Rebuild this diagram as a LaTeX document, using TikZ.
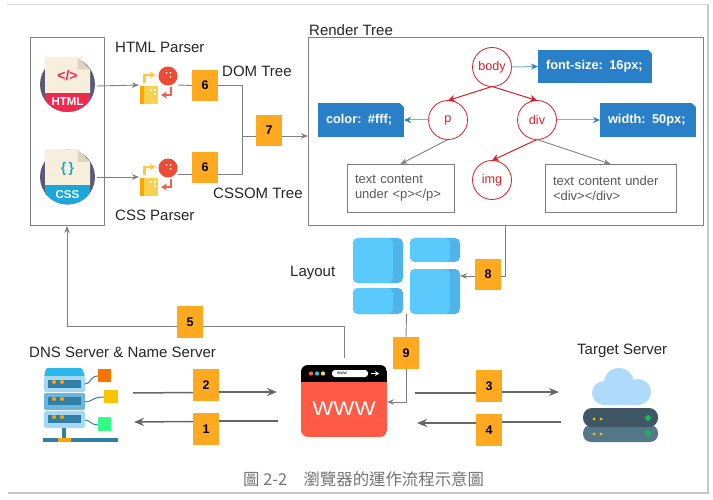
\documentclass[tikz,border=0pt]{standalone}
\usepackage{fontspec}
\usepackage{tikz}
\usetikzlibrary{arrows.meta}
\setmainfont{Liberation Sans}
\newfontfamily\cjk{Noto Sans CJK TC}

\definecolor{stepor}{HTML}{FFA920}
\definecolor{linegr}{HTML}{808080}
\definecolor{thickgr}{HTML}{666666}
\definecolor{nodered}{HTML}{D42027}
\definecolor{noteblue}{HTML}{2A7FC9}
\definecolor{notelin}{HTML}{7FB3CF}
\definecolor{paper}{HTML}{F7EEDB}
\definecolor{fold}{HTML}{DDD3C0}
\definecolor{ring}{HTML}{5A5A78}
\definecolor{htmlred}{HTML}{EE2A4E}
\definecolor{cssblue}{HTML}{1BA7DC}
\definecolor{parsey}{HTML}{FFD04D}
\definecolor{parseo}{HTML}{FFA500}
\definecolor{parser}{HTML}{EE4B35}
\definecolor{arrowy}{HTML}{FFC845}
\definecolor{arrowr}{HTML}{F0624D}
\definecolor{tileA}{HTML}{5AC9FC}
\definecolor{tileB}{HTML}{4EB4E9}
\definecolor{webred}{HTML}{FF5A45}
\definecolor{dnscap}{HTML}{2BB8EA}
\definecolor{dnslt}{HTML}{A5D8F3}
\definecolor{dnsmid}{HTML}{6CB4DA}
\definecolor{dnsdk}{HTML}{2F7FA8}
\definecolor{cloudc}{HTML}{AEDAFC}
\definecolor{rackA}{HTML}{3F5765}
\definecolor{rackB}{HTML}{557889}
\definecolor{ledg}{HTML}{16B85A}
\definecolor{ledy}{HTML}{FFC400}

\tikzset{
  pics/srcfile/.style n args={3}{code={
    \fill [ring] (0,0) circle [radius=27.5];
    \fill [paper] (-22.5,-27.5) -- (10,-27.5) -- (22.5,-15) -- (22.5,8.5) -- (-22.5,8.5) -- cycle;
    \fill [fold] (10,-27.5) -- (22.5,-15) -- (10,-15) -- cycle;
    \begin{scope}
      \clip (0,0) circle [radius=27.5];
      \fill [#1] (-22.5,8.5) rectangle (22.5,28);
    \end{scope}
    \node [text=#1, font=\fontsize{14}{14}\selectfont\bfseries] (logo) at (0,-8.5) {#2};
    \node [text=white, font=\fontsize{11.5}{12}\selectfont\bfseries] (band) at (0,17.5) {#3};
  }},
  pics/parser/.style={code={
    \fill [parsey] (0,0) rectangle (18.5,18);
    \fill [parseo] (0,0) rectangle (4,18);
    \fill [white] (10,3) rectangle (12,5);
    \fill [white] (14,3) rectangle (16,5);
    \fill [white] (14,7) rectangle (16,9);
    \fill [parser] (28.5,-10) circle [radius=9.5];
    \fill [white] (27,-13) circle [radius=1];
    \fill [white] (31,-13) circle [radius=1];
    \fill [white] (31,-9) circle [radius=1];
    \draw [line width=2.4pt, arrowy, -{Stealth[length=6pt,width=7pt]}] (5,-3) |- (16,-11);
    \draw [line width=2.4pt, arrowr, -{Stealth[length=6pt,width=7pt]}] (31.5,1) |- (21.5,9);
  }}
}

\begin{document}
\begin{tikzpicture}[
    x=1pt, y=-1pt,
    spot/.style={inner sep=0, outer sep=0, minimum width=#1},
    frame/.style={draw=linegr, line width=1pt, inner sep=0, outer sep=0, fill=white},
    stepbox/.style={fill=stepor, minimum width=26pt, minimum height=31.5pt, inner sep=0, outer sep=0,
      font=\fontsize{12.5}{13}\selectfont\bfseries},
    lbl/.style={anchor=west, inner sep=0, font=\fontsize{15}{15}\selectfont, text=black!85},
    cnct/.style={draw=linegr, line width=0.9pt, >={Stealth[length=7pt,width=5.5pt]}},
    bigcnct/.style={draw=thickgr, line width=1.5pt, >={Stealth[length=10pt,width=8pt]}},
    treenode/.style={draw=nodered, circle, line width=0.8pt, minimum size=39pt, inner sep=0, outer sep=0,
      text=nodered, font=\fontsize{12.6}{13}\selectfont},
    redcnct/.style={draw=nodered, line width=1pt, >={Stealth[length=7pt,width=7pt]}},
    notecnct/.style={draw=notelin, line width=1pt,
      >={Stealth[length=7pt,width=6pt,fill=noteblue,color=noteblue]}},
    notebox/.style={fill=noteblue, text=white, text width=#1, inner xsep=8pt, inner ysep=0, outer sep=0,
      minimum height=33.5pt, align=left, font=\fontsize{12.8}{14}\selectfont\bfseries,
      path picture={\fill [white] (path picture bounding box.north east) -- ++(-4pt,0pt) -- ++(4pt,-4pt) -- cycle;}},
    textbox/.style={draw=linegr, line width=0.9pt, fill=white, text=black!65, text width=#1, inner xsep=8pt,
      inner ysep=0, outer sep=0, minimum height=48pt, align=left,
      font=\fontsize{13}{15}\selectfont},
  ]
  \useasboundingbox (0,0) rectangle (713,500);
  \fill [white] (0,0) rectangle (713,500);
  % page edges
  \draw [black!15, line width=1pt] (7,4.5) -- (708,4.5);
  \draw [black!22, line width=1.5pt] (708,4.5) -- (708,493) -- (8,493);

  % boxes
  \node [frame, minimum width=74pt, minimum height=188pt] (srcBox) at (67,132) {};
  \node [frame, minimum width=395pt, minimum height=188pt] (renderBox) at (505.5,132) {};

  % file icons
  \node [spot=55pt, minimum height=55pt] (htmlIcon) at (67.5,84.5) {};
  \node [spot=55pt, minimum height=55pt] (cssIcon) at (67.5,177) {};
  \pic (html) at (67.5,84.5) {srcfile={htmlred}{</>}{HTML}};
  \pic (css) at (67.5,177) {srcfile={cssblue}{\{\,\}}{CSS}};

  % parsers
  \node [spot=39pt, minimum height=38pt] (parserA) at (158.5,85) {};
  \node [spot=39pt, minimum height=38pt] (parserB) at (158.5,177) {};
  \pic at (139.5,86) {parser};
  \pic at (139.5,178) {parser};

  \node [stepbox] (sixA) at (205,85.5) {6};
  \node [stepbox] (sixB) at (205,167.5) {6};
  \node [stepbox] (sevenBox) at (269,130.5) {7};
  \node [stepbox] (eightBox) at (488,274.5) {8};
  \node [stepbox] (nineBox) at (406,353) {9};
  \node [stepbox] (fiveBox) at (190,322) {5};
  \node [stepbox] (twoBox) at (206,385) {2};
  \node [stepbox] (oneBox) at (206,429) {1};
  \node [stepbox] (threeBox) at (489,386) {3};
  \node [stepbox] (fourBox) at (489,430) {4};

  \node [lbl] (htmlLbl) at (115,47) {HTML Parser};
  \node [lbl] (cssLbl) at (115,215) {CSS Parser};
  \node [lbl] (domLbl) at (222,71) {DOM Tree};
  \node [lbl] (cssomLbl) at (213,193) {CSSOM Tree};
  \node [lbl] (renderLbl) at (309,30) {Render Tree};
  \node [lbl] (layoutLbl) at (290,273) {Layout};
  \node [lbl] (dnsLbl) at (29,352) {DNS Server \& Name Server};
  \node [lbl] (targetLbl) at (577,351) {Target Server};

  \coordinate (joinPt) at (242,136);
  \draw [cnct, ->] (htmlIcon.east) ++(2,1.5) -- (parserA.west);
  \draw [cnct, ->] (cssIcon.east) ++(2,0) -- (parserB.west);
  \draw [cnct] (parserA.east) -- (sixA.west);
  \draw [cnct] ([yshift=3pt]parserB.east) -- ([yshift=-6.5pt]sixB.west);
  \draw [cnct] (sixA.east) -| (joinPt);
  \draw [cnct] ([yshift=-6.5pt]sixB.east) -| (joinPt);
  \draw [cnct] (joinPt) -- ([yshift=-5.5pt]sevenBox.west);
  \draw [cnct, ->] ([yshift=-5.5pt]sevenBox.east) -- ([yshift=-4pt]renderBox.west);

  % tree
  \node [treenode] (bodyNode) at (492,67) {body};
  \node [treenode] (pNode) at (448,120) {p};
  \node [treenode] (divNode) at (537,120) {div};
  \node [treenode] (imgNode) at (492,180) {img};
  \node [notebox=98pt] (sizeNote) at (595,66.5) {font-size: 16px;};
  \node [notebox=70pt] (colorNote) at (361,120) {color: \#fff;};
  \node [notebox=80pt] (widthNote) at (648,120) {width: 50px;};
  \node [textbox=91pt] (pText) at (400.5,188) {text content\\under <p></p>};
  \node [textbox=115pt] (divText) at (610.5,188) {text content under\\<div></div>};

  \draw [redcnct, ->] (bodyNode.south) -- (pNode.north);
  \draw [redcnct, ->] (bodyNode.south) -- (divNode.north);
  \draw [redcnct, ->] (divNode.south) -- (imgNode.north);
  \draw [cnct, ->] (pNode.south) -- (pText.north);
  \draw [cnct, ->] (divNode.south) -- (divText.north);
  \draw [notecnct, ->] (bodyNode.east) -- (sizeNote.west);
  \draw [notecnct, ->] (pNode.west) -- (colorNote.east);
  \draw [notecnct, ->] (divNode.east) -- (widthNote.west);

  % layout tiles
  \node [spot=107pt, minimum height=76pt] (layoutIcon) at (406.5,276) {};
  \foreach \xa/\ya/\xb/\yb in {353/238/403/283, 410/238/460/262, 353/288/403/314, 410/269/460/314} {
    \fill [tileB, rounded corners=5pt] (\xa,\ya) rectangle (\xb,\yb);
    \fill [tileA, rounded corners=5pt] (\xa,\ya) rectangle ({\xb-10},\yb);
  }
  \draw [cnct] (renderBox.south) |- ([yshift=-1.5pt]eightBox.east);
  \draw [cnct, ->] ([yshift=-1.5pt]eightBox.west) -- (layoutIcon.east);
  \draw [cnct] (layoutIcon.south) -- (nineBox.north);

  % browser
  \node [spot=86pt, minimum height=72pt] (webIcon) at (344,401) {};
  \begin{scope}
    \clip [rounded corners=7pt] (301,365) rectangle (387,437);
    \fill [webred] (301,365) rectangle (387,437);
    \fill [black] (301,365) rectangle (387,382);
  \end{scope}
  \fill [webred] (311,373.5) circle [radius=2.2];
  \fill [dnscap] (317,373.5) circle [radius=2.2];
  \fill [parsey] (323,373.5) circle [radius=2.2];
  \fill [white, rounded corners=3pt] (332,370) rectangle (368,377);
  \node [inner sep=0, font=\fontsize{4.5}{5}\selectfont] (urlText) at (342,373.5) {www};
  \draw [white, line width=1pt, -{Stealth[length=4pt,width=5pt]}] (371,373.5) -- (379,373.5);
  \node [inner sep=0, text=white, xscale=1.12, font=\fontsize{20}{20}\selectfont] (wwwText) at (344,409) {WWW};
  \draw [cnct, ->] (nineBox.south) |- ([yshift=-1pt]webIcon.east);
  \draw [cnct] ([yshift=7pt]webIcon.north) |- ([yshift=-4.7pt]fiveBox.east);
  \draw [cnct, ->] ([yshift=-4.7pt]fiveBox.west) -| (srcBox.south);

  % dns server
  \node [spot=75pt, minimum height=74pt] (dnsIcon) at (80.5,405) {};
  \fill [dnscap, rounded corners=1.5pt] (46,368) -- (82,368) -- (85,377) -- (44,377) -- cycle;
  \foreach \ya/\yb/\tone in {376/392/dnslt, 393/410/dnsmid, 411/428/dnslt} {
    \fill [\tone, rounded corners=2pt] (44,\ya) rectangle (85,\yb);
    \fill [dnsdk] (48,\ya+4) rectangle (81,\ya+12);
    \fill [parseo] (54,\ya+6) circle [radius=2];
    \fill [parseo] (62,\ya+6) circle [radius=2];
  }
  \fill [dnsdk] (62,428) rectangle (66,438);
  \fill [dnsdk] (43,438) rectangle (118,442);
  \fill [parseo] (58,438) rectangle (71,442);
  \draw [dnsdk, line width=1pt] (85,384) .. controls (91,384) and (90,376) .. (98,376);
  \draw [dnsdk, line width=1pt] (85,402) .. controls (92,402) and (92,397) .. (104,397);
  \draw [dnsdk, line width=1pt] (85,420) .. controls (90,420) and (91,425) .. (98,425);
  \fill [parseo!70!red] (98,369) rectangle (111,382);
  \fill [ledy] (104,390) rectangle (118,403);
  \fill [green!60!cyan!80!white] (98,417) rectangle (111,431);

  % target server
  \node [spot=75pt, minimum height=74pt] (serverIcon) at (620.5,405) {};
  \fill [cloudc] (604,393) circle [radius=12];
  \fill [cloudc] (619,383) circle [radius=15];
  \fill [cloudc] (638,392) circle [radius=13];
  \fill [cloudc] (604,392) rectangle (638,405);
  \fill [rackB, rounded corners=8pt] (583,425) rectangle (658,442);
  \fill [rackA, rounded corners=9pt] (583,408) rectangle (658,427);
  \foreach \yc in {418,433} {
    \fill [ledg] (648,\yc) circle [radius=3];
    \fill [ledy] (594,\yc+1) circle [radius=1.5];
    \fill [ledy] (601,\yc+1) circle [radius=1.5];
  }

  \draw [bigcnct] ([xshift=15pt,yshift=12pt]dnsIcon.east) -- ([yshift=-7.5pt]twoBox.west);
  \draw [bigcnct, ->] ([yshift=-7pt]twoBox.east) -- ([xshift=-24pt,yshift=9pt]webIcon.west);
  \draw [bigcnct] ([xshift=-23pt,yshift=-20pt]webIcon.west) -- ([yshift=8pt]oneBox.east);
  \draw [bigcnct, ->] ([yshift=7.5pt]oneBox.west) -- ([xshift=16pt,yshift=-17pt]dnsIcon.east);
  \draw [bigcnct] ([xshift=28pt,yshift=8pt]webIcon.east) -- ([yshift=-7pt]threeBox.west);
  \draw [bigcnct, ->] ([yshift=-6pt]threeBox.east) -- ([xshift=-24pt,yshift=13pt]serverIcon.west);
  \draw [bigcnct] ([xshift=-22pt,yshift=-17pt]serverIcon.west) -- ([yshift=8pt]fourBox.east);
  \draw [bigcnct, ->] ([yshift=7pt]fourBox.west) -- ([xshift=30pt,yshift=-22pt]webIcon.east);

  \node [anchor=west, inner sep=0, text=black!55, font=\cjk\fontsize{16.4}{17}\selectfont] (captionText) at (243,479)
    {圖 2-2　瀏覽器的運作流程示意圖};
\end{tikzpicture}
\end{document}
